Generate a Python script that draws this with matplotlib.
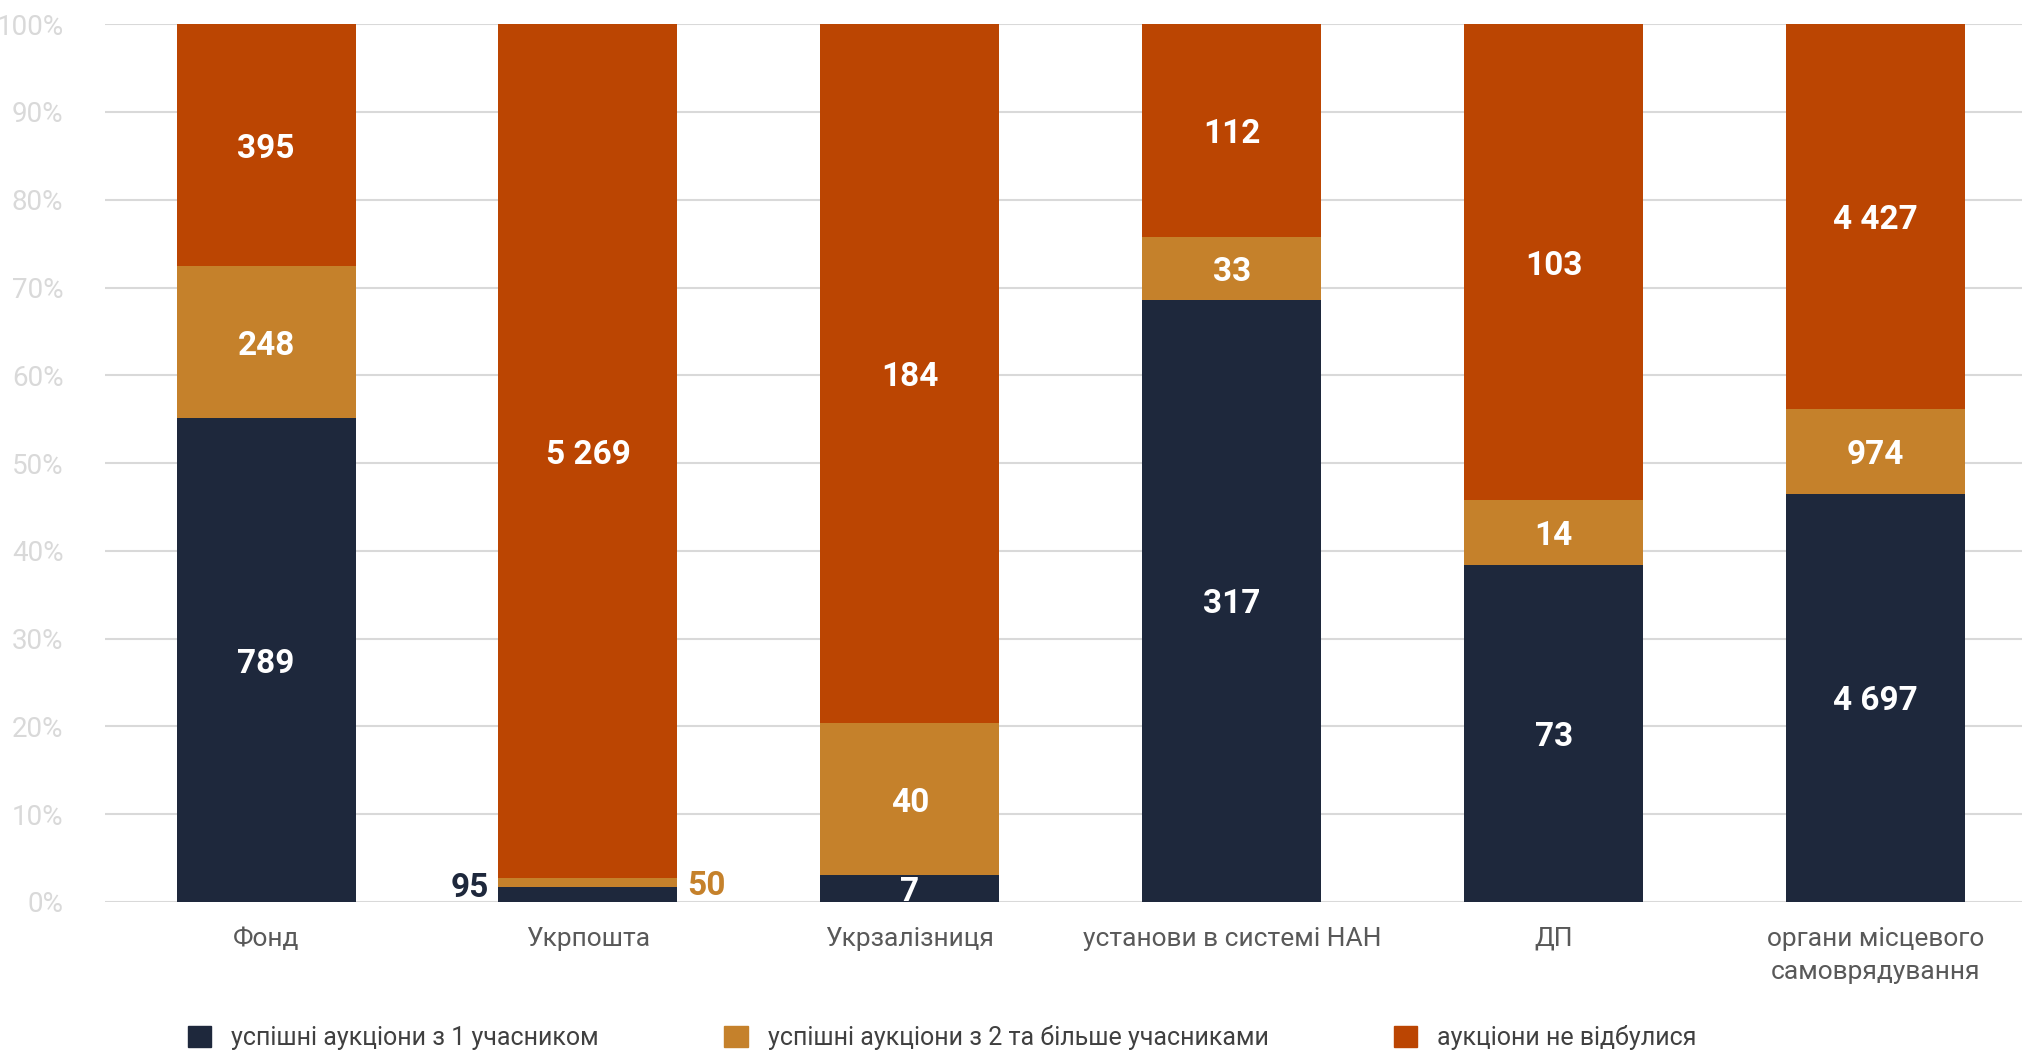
import matplotlib
matplotlib.use("Agg")
import numpy as np
import matplotlib.pyplot as plt
from matplotlib.patches import Patch

categories = ["Фонд", "Укрпошта", "Укрзалізниця", "установи в системі НАН", "ДП",
              "органи місцевого\nсамоврядування"]
one_bidder = [789, 95, 7, 317, 73, 4697]
multi_bidder = [248, 50, 40, 33, 14, 974]
failed = [395, 5269, 184, 112, 103, 4427]
series_names = ["успішні аукціони з 1 учасником",
                "успішні аукціони з 2 та більше учасниками",
                "аукціони не відбулися"]
y_ticks = [0, 10, 20, 30, 40, 50, 60, 70, 80, 90, 100]

colors = ["#1E283C", "#C5812B", "#BB4502"]
plt.rcParams["font.family"] = ["Roboto", "DejaVu Sans"]

fig = plt.figure(figsize=(20.22, 10.53), dpi=100)
ax = fig.add_axes([0.052, 0.1434, 0.948, 0.8336])

data = np.array([one_bidder, multi_bidder, failed], dtype=float)
shares = data / data.sum(axis=0) * 100
x = np.arange(len(categories))
width = 0.556

bottom = np.zeros(len(categories))
for i in range(3):
    ax.bar(x, shares[i], width, bottom=bottom, color=colors[i], zorder=2)
    for j in range(len(categories)):
        val = int(data[i, j])
        txt = f"{val:,}".replace(",", " ")
        yc = bottom[j] + shares[i, j] / 2
        if j == 1 and i < 2:
            # segments too thin for the label: put it beside the bar
            if i == 0:
                ax.text(x[j] - width / 2 - 0.03, 2.0, txt, ha="right", va="center_baseline",
                        fontsize=24, fontweight="bold", color=colors[0])
            else:
                ax.text(x[j] + width / 2 + 0.03, 2.2, txt, ha="left", va="center_baseline",
                        fontsize=24, fontweight="bold", color=colors[1])
            continue
        ax.text(x[j], yc, txt, ha="center", va="center_baseline", fontsize=24,
                fontweight="bold", color="white", zorder=3)
    bottom += shares[i]

ax.set_xlim(-0.5, 5.455)
ax.set_ylim(0, 100)
ax.set_yticks(y_ticks)
ax.set_yticklabels([f"{t}%" for t in y_ticks], fontsize=20, color="#D9D9D9")
ax.set_xticks(x)
ax.set_xticklabels(categories, fontsize=19, color="#595959", linespacing=1.45)
ax.tick_params(axis="both", length=0)
ax.tick_params(axis="x", pad=18)
ax.tick_params(axis="y", pad=30)
ax.grid(axis="y", color="#D9D9D9", linewidth=1.5, zorder=0)
for s in ax.spines.values():
    s.set_visible(False)
ax.axhline(0, color="#D9D9D9", linewidth=2, zorder=1)

handles = [Patch(color=c) for c in colors]
fig.legend(handles, series_names, loc="center", bbox_to_anchor=(0.466, 0.0145),
           ncol=3, frameon=False, handlelength=0.95, handleheight=0.95,
           columnspacing=5.0, handletextpad=0.8,
           prop={"family": ["Roboto"], "size": 18},
           labelcolor="#404040")

fig.savefig("out.png", dpi=100)
